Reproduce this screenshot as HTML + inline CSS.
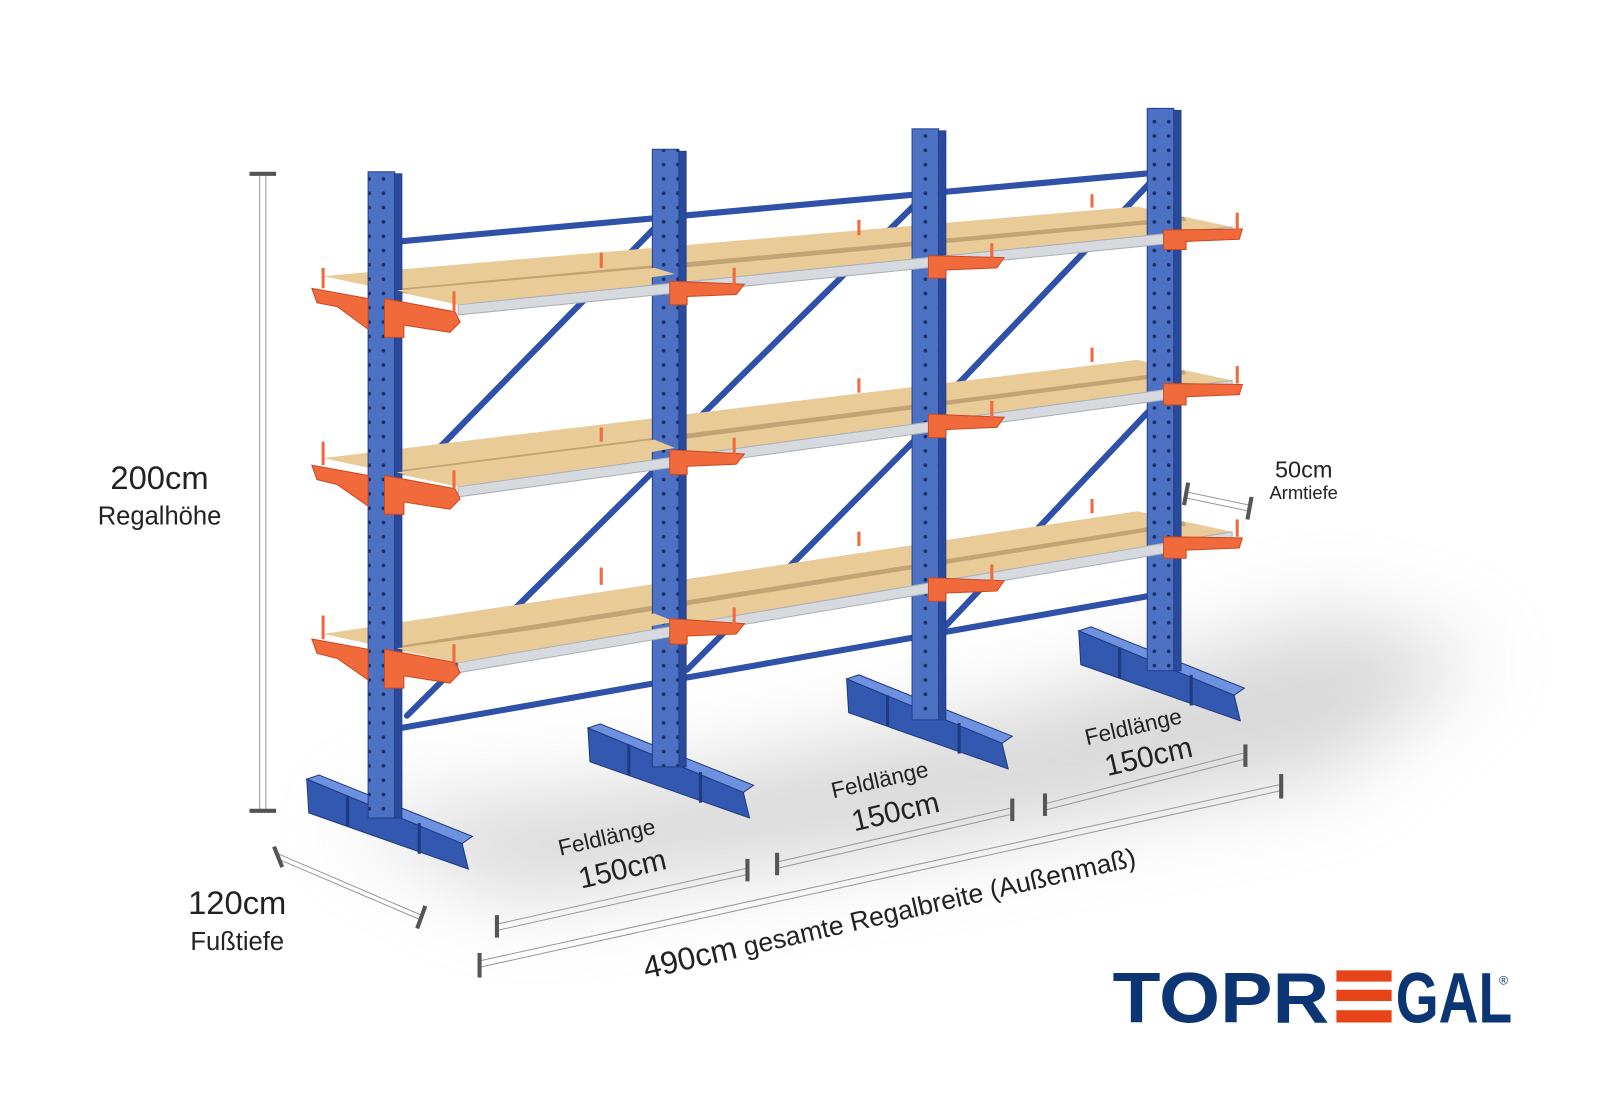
<!DOCTYPE html>
<html><head><meta charset="utf-8"><style>
html,body{margin:0;padding:0;background:#fff}
svg{display:block}
text{font-family:"Liberation Sans",sans-serif}
</style></head><body>
<svg width="1600" height="1100" viewBox="0 0 1600 1100" xmlns="http://www.w3.org/2000/svg">
<defs>
<filter id="blur" x="-50%" y="-50%" width="200%" height="200%"><feGaussianBlur stdDeviation="40"/></filter>
<pattern id="holes" width="32" height="14" patternUnits="userSpaceOnUse">
<rect width="32" height="14" fill="#4d72c4"/>
<circle cx="9" cy="7" r="1.8" fill="#1b2f66"/><circle cx="23" cy="7" r="1.8" fill="#1b2f66"/>
</pattern>
</defs>
<rect width="1600" height="1100" fill="#fff"/>
<g transform="scale(1.0225)">
<!-- shadow -->
<polygon points="330,800 600,770 1000,690 1300,600 1450,640 1300,760 900,830 500,880" fill="#b8b8b8" opacity="0.55" filter="url(#blur)"/>

<!-- bases -->
<g id="bases" stroke="#1e3a80" stroke-width="1">
<g>
<polygon points="300,762 312,758 462,818 452,825" fill="#6f92e0"/>
<polygon points="300,762 452,825 458,850 302,795" fill="#3358b0"/>
<line x1="340" y1="778" x2="340" y2="808" stroke-width="3"/><line x1="410" y1="805" x2="410" y2="835" stroke-width="3"/>
</g>
<g transform="translate(275,-50)">
<polygon points="300,762 312,758 462,818 452,825" fill="#6f92e0"/>
<polygon points="300,762 452,825 458,850 302,795" fill="#3358b0"/>
<line x1="340" y1="778" x2="340" y2="808" stroke-width="3"/><line x1="410" y1="805" x2="410" y2="835" stroke-width="3"/>
</g>
<g transform="translate(528,-98)">
<polygon points="300,762 312,758 462,818 452,825" fill="#6f92e0"/>
<polygon points="300,762 452,825 458,850 302,795" fill="#3358b0"/>
<line x1="340" y1="778" x2="340" y2="808" stroke-width="3"/><line x1="410" y1="805" x2="410" y2="835" stroke-width="3"/>
</g>
<g transform="translate(755,-145)">
<polygon points="300,762 312,758 462,818 452,825" fill="#6f92e0"/>
<polygon points="300,762 452,825 458,850 302,795" fill="#3358b0"/>
<line x1="340" y1="778" x2="340" y2="808" stroke-width="3"/><line x1="410" y1="805" x2="410" y2="835" stroke-width="3"/>
</g>
</g>

<!-- tie bars & diagonals -->
<g stroke="#2f51a8" stroke-width="6" stroke-linecap="round">
<line x1="392" y1="236" x2="1140" y2="168"/>
<line x1="392" y1="712" x2="1140" y2="580"/>
<line x1="650" y1="213" x2="410" y2="458"/>
<line x1="905" y1="190" x2="672" y2="420"/>
<line x1="1135" y1="168" x2="928" y2="385"/>
<line x1="650" y1="450" x2="398" y2="700"/>
<line x1="905" y1="420" x2="672" y2="655"/>
<line x1="1135" y1="390" x2="925" y2="612"/>
</g>
<g fill="#203f8f">
<circle cx="652" cy="212" r="10"/><circle cx="905" cy="190" r="10"/><circle cx="1135" cy="168" r="10"/>
<circle cx="652" cy="662" r="10"/><circle cx="905" cy="620" r="10"/><circle cx="1135" cy="580" r="10"/>
</g>

<!-- shelves -->
<g id="shelves">
<polygon points="316,270 1112,202 1205,222 448,298" fill="#e9cb98"/>
<polygon points="382,283 1158,212 1160,216 384,288" fill="#b89a6c" opacity="0.8"/>
<polygon points="316,448 1112,352 1205,372 448,476" fill="#e9cb98"/>
<polygon points="382,461 1158,362 1160,366 384,466" fill="#b89a6c" opacity="0.8"/>
<polygon points="316,620 1112,500 1205,520 448,648" fill="#e9cb98"/>
<polygon points="382,633 1158,510 1160,514 384,638" fill="#b89a6c" opacity="0.8"/>
</g>

<!-- columns -->
<g stroke="#23408e" stroke-width="1">
<rect x="360" y="168" width="26" height="632" fill="url(#holes)"/><rect x="386" y="170" width="7" height="630" fill="#2b4a9c"/>
<rect x="638" y="146" width="26" height="604" fill="url(#holes)"/><rect x="664" y="148" width="7" height="602" fill="#2b4a9c"/>
<rect x="892" y="126" width="26" height="578" fill="url(#holes)"/><rect x="918" y="128" width="7" height="576" fill="#2b4a9c"/>
<rect x="1122" y="106" width="26" height="550" fill="url(#holes)"/><rect x="1148" y="108" width="7" height="548" fill="#2b4a9c"/>
</g>
<g fill="#d6d9de" stroke="#aab0b8">
<polygon points="448,298 1205,222 1205,232 448,308"/>
<polygon points="448,476 1205,372 1205,382 448,486"/>
<polygon points="448,648 1205,520 1205,530 448,658"/>
</g>
<g fill="#e9cb98">
<polygon points="388,284 640,262 660,268 448,298"/>
<polygon points="388,462 640,430 660,438 448,476"/>
<polygon points="388,634 640,600 660,608 448,648"/>
</g>

<!-- arms -->
<g fill="#f06a3c" stroke="#c94a22" stroke-width="1">
<polygon points="305,282 360,292 360,322 330,300 310,296"/>
<polygon points="376,292 445,305 450,315 440,325 395,318 395,330 376,330"/>
<polygon points="305,455 360,465 360,495 330,474 310,469"/>
<polygon points="376,465 445,478 450,488 440,498 395,491 395,503 376,503"/>
<polygon points="305,625 360,635 360,665 330,644 310,639"/>
<polygon points="376,635 445,648 450,658 440,668 395,661 395,673 376,673"/>
<polygon points="655,275 728,278 720,288 672,290 672,298 655,298"/>
<polygon points="655,440 728,444 720,454 672,456 672,464 655,464"/>
<polygon points="655,605 728,610 720,620 672,622 672,630 655,630"/>
<polygon points="908,250 982,252 975,262 925,264 925,272 908,272"/>
<polygon points="908,405 982,408 975,418 925,420 925,428 908,428"/>
<polygon points="908,565 982,568 975,578 925,580 925,588 908,588"/>
<polygon points="1138,225 1215,224 1212,234 1160,236 1160,244 1138,244"/>
<polygon points="1138,375 1215,376 1212,386 1160,388 1160,396 1138,396"/>
<polygon points="1138,525 1215,526 1212,536 1160,538 1160,546 1138,546"/>
</g>
<g stroke="#f06a3c" stroke-width="3">
<line x1="316" y1="262" x2="316" y2="282"/><line x1="444" y1="285" x2="444" y2="305"/><line x1="588" y1="247" x2="588" y2="262"/><line x1="840" y1="215" x2="840" y2="230"/><line x1="1068" y1="190" x2="1068" y2="203"/><line x1="1210" y1="208" x2="1210" y2="225"/><line x1="718" y1="262" x2="718" y2="278"/><line x1="970" y1="238" x2="970" y2="252"/>
<line x1="316" y1="432" x2="316" y2="455"/><line x1="444" y1="460" x2="444" y2="478"/><line x1="588" y1="418" x2="588" y2="432"/><line x1="840" y1="370" x2="840" y2="384"/><line x1="1068" y1="340" x2="1068" y2="354"/><line x1="1210" y1="358" x2="1210" y2="375"/><line x1="718" y1="428" x2="718" y2="444"/><line x1="970" y1="392" x2="970" y2="408"/>
<line x1="316" y1="602" x2="316" y2="625"/><line x1="444" y1="630" x2="444" y2="648"/><line x1="588" y1="555" x2="588" y2="572"/><line x1="840" y1="520" x2="840" y2="534"/><line x1="1068" y1="488" x2="1068" y2="502"/><line x1="1210" y1="508" x2="1210" y2="525"/><line x1="718" y1="594" x2="718" y2="610"/><line x1="970" y1="552" x2="970" y2="568"/>
</g>

<!-- dimensions -->
<g stroke="#999" stroke-width="1">
<line x1="254" y1="170" x2="254" y2="793"/><line x1="260" y1="170" x2="260" y2="793"/>
<line x1="272" y1="835" x2="412" y2="895"/><line x1="274" y1="841" x2="410" y2="899"/>
<line x1="485" y1="904" x2="731" y2="849"/><line x1="486" y1="910" x2="732" y2="855"/>
<line x1="760" y1="843" x2="990" y2="790"/><line x1="761" y1="849" x2="991" y2="796"/>
<line x1="1022" y1="786" x2="1218" y2="736"/><line x1="1023" y1="792" x2="1219" y2="742"/>
<line x1="468" y1="940" x2="1253" y2="767"/><line x1="469" y1="946" x2="1254" y2="773"/>
<line x1="1160" y1="481" x2="1222" y2="494"/><line x1="1160" y1="487" x2="1222" y2="500"/>
</g>
<g stroke="#555" stroke-width="4">
<line x1="244" y1="170" x2="270" y2="170"/><line x1="244" y1="793" x2="270" y2="793"/>
<line x1="268" y1="828" x2="276" y2="848"/><line x1="416" y1="886" x2="408" y2="908"/>
<line x1="486" y1="895" x2="486" y2="917"/><line x1="731" y1="840" x2="731" y2="862"/>
<line x1="760" y1="834" x2="760" y2="856"/><line x1="990" y1="781" x2="990" y2="803"/>
<line x1="1022" y1="776" x2="1022" y2="798"/><line x1="1218" y1="728" x2="1218" y2="750"/>
<line x1="469" y1="932" x2="469" y2="956"/><line x1="1253" y1="757" x2="1253" y2="781"/>
<line x1="1162" y1="472" x2="1158" y2="494"/><line x1="1224" y1="486" x2="1220" y2="508"/>
</g>

<g fill="#222">
<text x="156" y="478" font-size="32" text-anchor="middle">200cm</text>
<text x="156" y="513" font-size="25" text-anchor="middle">Regalhöhe</text>
<text x="232" y="894" font-size="32" text-anchor="middle">120cm</text>
<text x="232" y="929" font-size="25" text-anchor="middle">Fußtiefe</text>
<text x="1275" y="467" font-size="23" text-anchor="middle">50cm</text>
<text x="1275" y="488" font-size="18" text-anchor="middle">Armtiefe</text>
<g transform="translate(595,826) rotate(-13)"><text font-size="22" text-anchor="middle">Feldlänge</text><text y="36" x="8" font-size="29" text-anchor="middle">150cm</text></g>
<g transform="translate(862,770) rotate(-13)"><text font-size="22" text-anchor="middle">Feldlänge</text><text y="36" x="8" font-size="29" text-anchor="middle">150cm</text></g>
<g transform="translate(1110,718) rotate(-13)"><text font-size="22" text-anchor="middle">Feldlänge</text><text y="34" x="8" font-size="29" text-anchor="middle">150cm</text></g>
<g transform="translate(872,902) rotate(-13)"><text font-size="26" text-anchor="middle"><tspan font-size="31">490cm</tspan> gesamte Regalbreite  (Außenmaß)</text></g>
</g>

<!-- logo -->
<g fill="#0b3673" font-weight="bold">
<text x="1088" y="1000" font-size="70" textLength="212" lengthAdjust="spacingAndGlyphs">TOPR</text>
<text x="1365" y="1000" font-size="70" textLength="114" lengthAdjust="spacingAndGlyphs">GAL</text>
<text x="1466" y="963" font-size="12" font-weight="normal">®</text>
</g>
<g fill="#e8441a">
<rect x="1307" y="949" width="54" height="11"/>
<rect x="1307" y="968" width="54" height="11"/>
<rect x="1307" y="988" width="54" height="12"/>
</g>
</g>
</svg>
</body></html>
